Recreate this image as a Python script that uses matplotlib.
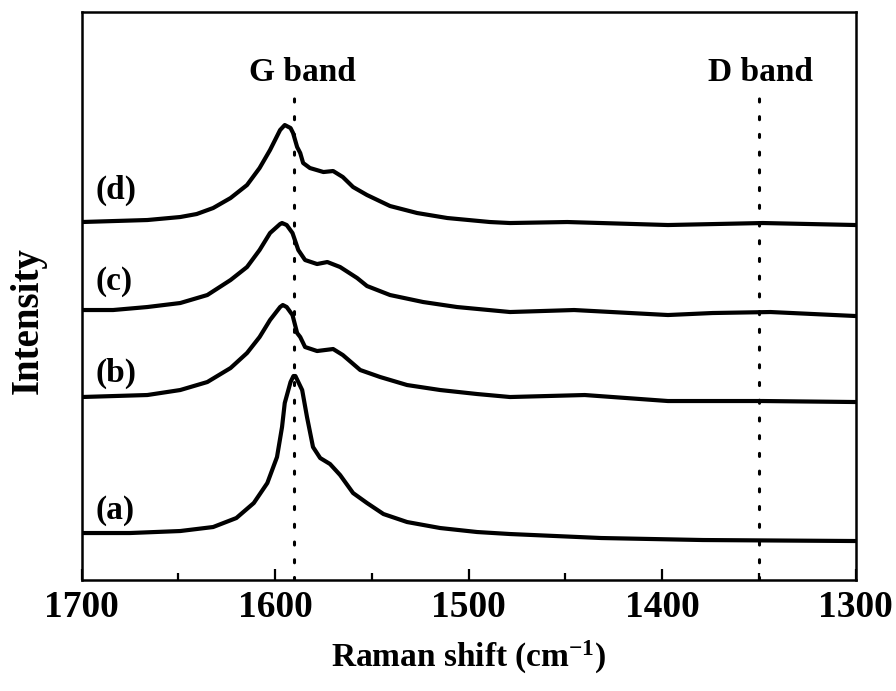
import numpy as np
import matplotlib.pyplot as plt
from matplotlib.ticker import MultipleLocator

plt.rcParams['font.family'] = ['Liberation Serif', 'DejaVu Serif']
plt.rcParams['font.weight'] = 'bold'
plt.rcParams['mathtext.default'] = 'regular'

# Raman spectra (shift in cm-1, intensity in a.u., already offset)
shift_a = [1700, 1675, 1649, 1632, 1620, 1611, 1604, 1599, 1596.4, 1595, 1592, 1590.5,
           1589.5, 1586, 1583.5, 1580.4, 1576.7, 1571.6, 1566.4, 1559.7, 1552.5, 1544,
           1531.8, 1514.7, 1495.6, 1478.6, 1431.5, 1379, 1300]
int_a = [47, 47, 49, 53, 62, 77, 97, 123, 153, 177, 198, 204,
         204, 190, 163, 133, 122, 116, 105, 87, 77, 66,
         58, 52, 48, 46, 42, 40, 39]

shift_b = [1700, 1666, 1649, 1635, 1623, 1614.5, 1608, 1602.6, 1597.4, 1596, 1594, 1591,
           1588.6, 1587, 1584.5, 1578.3, 1570, 1565, 1556, 1545.7, 1531.8, 1514.7,
           1495.6, 1478.6, 1440, 1397, 1348, 1300]
int_b = [183, 185, 190, 198, 212, 227, 243, 260, 273, 275, 273, 265,
         247, 243, 233, 229, 231, 225, 210, 203, 195, 190,
         186, 183, 185, 179, 179, 178]

shift_c = [1700, 1683.7, 1666, 1649, 1635, 1623, 1614.5, 1608, 1602.6, 1597.4, 1596.4,
           1594, 1591, 1588, 1584.5, 1578.3, 1573, 1566.4, 1557.6, 1552.5, 1540.6,
           1523.5, 1506, 1478.6, 1445.5, 1397, 1374, 1344, 1300]
int_c = [270, 270, 273, 277, 285, 300, 313, 330, 347, 356, 357,
         355, 347, 330, 320, 316, 318, 313, 302, 294, 285,
         278, 273, 268, 270, 265, 267, 268, 264]

shift_d = [1700, 1666, 1649, 1640.5, 1632, 1623, 1614.5, 1608, 1602.6, 1597.4, 1595,
           1592, 1590.7, 1588.6, 1587, 1585.5, 1582, 1575, 1570, 1565, 1559.7, 1552.5,
           1540.6, 1526.6, 1511, 1489, 1478.6, 1449, 1397, 1348, 1300]
int_d = [358, 360, 363, 366, 372, 382, 395, 412, 430, 450, 455,
         452, 447, 433, 427, 417, 412, 408, 409, 403, 393, 385,
         374, 367, 362, 358, 357, 358, 355, 357, 355]

curve_names = ['(a)', '(b)', '(c)', '(d)']
label_y = [70, 207, 299, 390]

band_pos = [1590, 1350]
band_names = ['G band', 'D band']
band_text_x = [1586, 1349]

fig = plt.figure(figsize=(8.96, 6.91), dpi=100)
ax = fig.add_axes([0.091, 0.1606, 0.864, 0.822])

for xs, ys in [(shift_a, int_a), (shift_b, int_b), (shift_c, int_c), (shift_d, int_d)]:
    ax.plot(xs, ys, color='black', lw=3.0, solid_joinstyle='round', solid_capstyle='round')

for name, yy in zip(curve_names, label_y):
    ax.text(1693, yy, name, fontsize=24, fontweight='bold', ha='left', va='center')

for pos, tx, name in zip(band_pos, band_text_x, band_names):
    ax.plot([pos, pos], [0, 496], color='black', lw=2.2, linestyle=(0, (1, 4.8)),
            dash_capstyle='round')
    ax.text(tx, 508, name, fontsize=24, fontweight='bold', ha='center', va='center')

ax.set_xlim(1700, 1300)
ax.set_ylim(0, 568)
ax.xaxis.set_major_locator(MultipleLocator(100))
ax.xaxis.set_minor_locator(MultipleLocator(50))
ax.tick_params(axis='x', which='both', direction='in', top=False, width=1.6, labelsize=27, pad=7)
ax.tick_params(axis='x', which='major', length=8)
ax.tick_params(axis='x', which='minor', length=5)
ax.set_yticks([])
for sp in ax.spines.values():
    sp.set_linewidth(1.8)

ax.set_xlabel('Raman shift (cm$^{-1}$)', fontsize=24, fontweight='bold', labelpad=10)
ax.set_ylabel('Intensity', fontsize=28, fontweight='bold')
ax.yaxis.set_label_coords(-0.045, 0.456)

fig.savefig('out.png', dpi=100)
